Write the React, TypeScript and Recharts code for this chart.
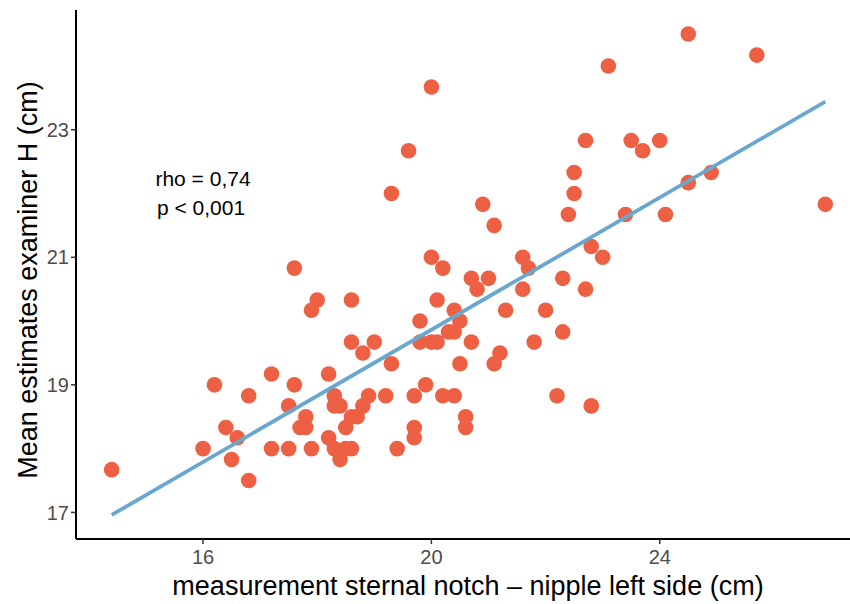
import React from "react";
import { ComposedChart, Scatter, XAxis, YAxis, Customized } from "recharts";

// measurement sternal notch – nipple left side (cm)
const sternalNotch = [
  14.4, 16.0, 16.2, 16.4, 16.5, 16.6, 16.8, 16.8, 17.2, 17.2,
  17.5, 17.5, 17.6, 17.6, 17.7, 17.8, 17.8, 17.9, 17.9, 18.0,
  18.2, 18.2, 18.3, 18.3, 18.4, 18.3, 18.4, 18.5, 18.5, 18.6,
  18.6, 18.7, 18.6, 18.6, 18.8, 18.8, 18.9, 19.0, 19.2, 19.3,
  19.3, 19.4, 19.6, 19.7, 19.7, 19.7, 19.8, 19.8, 19.9, 20.0,
  20.0, 20.0, 20.1, 20.1, 20.2, 20.2, 20.3, 20.4, 20.4, 20.4,
  20.5, 20.5, 20.6, 20.6, 20.7, 20.7, 20.8, 20.9, 21.0, 21.1,
  21.1, 21.2, 21.3, 21.6, 21.7, 21.6, 21.8, 22.0, 22.2, 22.3,
  22.3, 22.4, 22.5, 22.5, 22.7, 22.7, 22.8, 22.8, 23.0, 23.1,
  23.4, 23.5, 23.7, 24.0, 24.1, 24.5, 24.5, 24.9, 25.7, 26.9,
];

// mean estimates examiner H (cm)
const examinerH = [
  17.67, 18.0, 19.0, 18.33, 17.83, 18.17, 18.83, 17.5, 19.17, 18.0,
  18.67, 18.0, 20.83, 19.0, 18.33, 18.33, 18.5, 20.17, 18.0, 20.33,
  19.17, 18.17, 18.83, 18.67, 18.67, 18.0, 17.83, 18.33, 18.0, 18.0,
  18.5, 18.5, 20.33, 19.67, 19.5, 18.67, 18.83, 19.67, 18.83, 19.33,
  22.0, 18.0, 22.67, 18.83, 18.33, 18.17, 20.0, 19.67, 19.0, 23.67,
  21.0, 19.67, 20.33, 19.67, 20.83, 18.83, 19.83, 19.83, 20.17, 18.83,
  20.0, 19.33, 18.5, 18.33, 20.67, 19.67, 20.5, 21.83, 20.67, 21.5,
  19.33, 19.5, 20.17, 21.0, 20.83, 20.5, 19.67, 20.17, 18.83, 20.67,
  19.83, 21.67, 22.33, 22.0, 22.83, 20.5, 21.17, 18.67, 21.0, 24.0,
  21.67, 22.83, 22.67, 22.83, 21.67, 24.5, 22.17, 22.33, 24.17, 21.83,
];

// fitted line end points
const fitX = [14.4, 26.9];
const fitY = [16.96, 23.44];

const xTicks = [16, 20, 24];
const yTicks = [17, 19, 21, 23];

const points = sternalNotch.map((x, i) => ({ x, y: examinerH[i] }));
const fit = fitX.map((x, i) => ({ x, y: fitY[i] }));

const FONT = "'Liberation Sans', Arial, Helvetica, sans-serif";

const Dot = (props: any) => (
  <circle cx={props.cx} cy={props.cy} r={7.8} fill="#EE6044" />
);

const Texts = () => (
  <g fontFamily={FONT}>
    <text x={203} y={186} fontSize={21} textAnchor="middle" fill="#000">
      rho = 0,74
    </text>
    <text x={201} y={215} fontSize={21} textAnchor="middle" fill="#000">
      p &lt; 0,001
    </text>
    <text x={468} y={595} fontSize={27} textAnchor="middle" fill="#000">
      measurement sternal notch – nipple left side (cm)
    </text>
    <text
      x={37}
      y={280}
      fontSize={27}
      textAnchor="middle"
      fill="#000"
      transform="rotate(-90 37 280)"
    >
      Mean estimates examiner H (cm)
    </text>
  </g>
);

export default function App() {
  return (
    <div
      style={{
        position: "absolute",
        left: 0,
        top: 0,
        width: 850,
        height: 604,
        overflow: "hidden",
        background: "#fff",
      }}
    >
      <ComposedChart
        width={870}
        height={604}
        margin={{ top: 10, right: 9, bottom: 0, left: 0 }}
      >
        <XAxis
          type="number"
          dataKey="x"
          domain={[13.775, 27.525]}
          ticks={xTicks}
          height={65}
          axisLine={{ stroke: "#000", strokeWidth: 2 }}
          tickLine={{ stroke: "#333", strokeWidth: 1.5 }}
          tickSize={5}
          tick={{ fill: "#4D4D4D", fontSize: 20, fontFamily: FONT, dy: 4 }}
          allowDataOverflow
        />
        <YAxis
          type="number"
          dataKey="y"
          domain={[16.583, 24.877]}
          ticks={yTicks}
          width={76}
          axisLine={{ stroke: "#000", strokeWidth: 2 }}
          tickLine={{ stroke: "#333", strokeWidth: 1.5 }}
          tickSize={5}
          tick={{ fill: "#4D4D4D", fontSize: 20, fontFamily: FONT }}
          allowDataOverflow
        />
        <Scatter data={points} shape={<Dot />} isAnimationActive={false} />
        <Scatter
          data={fit}
          line={{ stroke: "#6AA7CF", strokeWidth: 3.8 }}
          shape={() => <g />}
          isAnimationActive={false}
        />
        <Customized component={Texts} />
      </ComposedChart>
    </div>
  );
}
